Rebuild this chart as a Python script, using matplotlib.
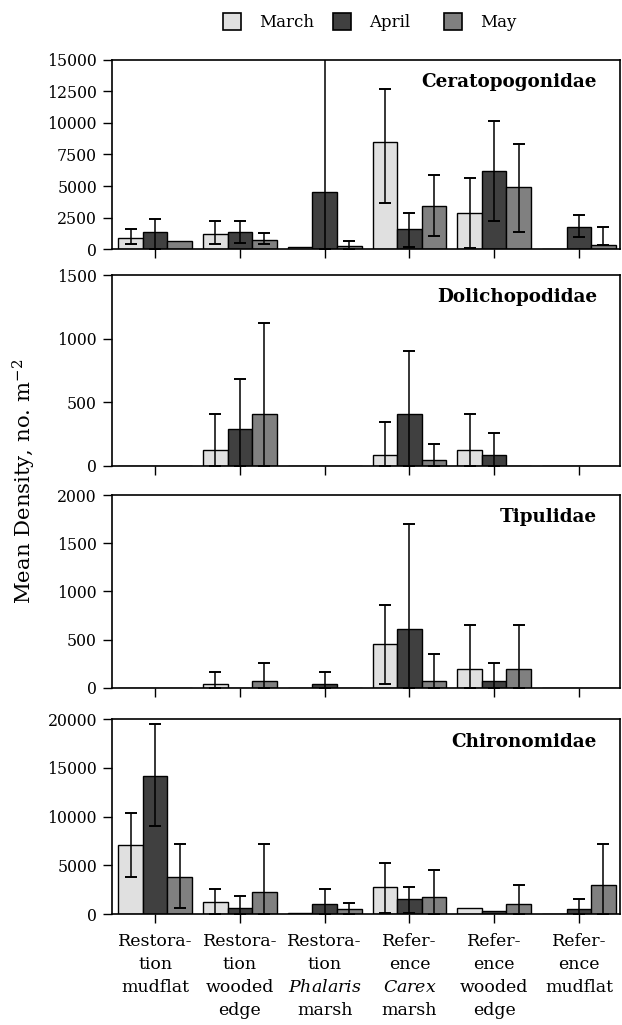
import numpy as np
import matplotlib
matplotlib.use("Agg")
import matplotlib.pyplot as plt
from matplotlib.patches import Patch

plt.rcParams["font.family"] = "DejaVu Serif"
plt.rcParams["mathtext.fontset"] = "custom"
plt.rcParams["mathtext.rm"] = "DejaVu Serif"
plt.rcParams["mathtext.it"] = "DejaVu Serif:italic"

# ── Data ──────────────────────────────────────────────────────────────────────
sites = [
    "Restora-\ntion\nmudflat",
    "Restora-\ntion\nwooded\nedge",
    "Restora-\ntion\n$\\it{Phalaris}$\nmarsh",
    "Refer-\nence\n$\\it{Carex}$\nmarsh",
    "Refer-\nence\nwooded\nedge",
    "Refer-\nence\nmudflat",
]
months = ["March", "April", "May"]
month_colors = ["#e0e0e0", "#404040", "#808080"]

# Ceratopogonidae: means, upper and lower error-bar ends
cera_mar = [900, 1220, 210, 8480, 2880, 0]
cera_mar_hi = [1610, 2270, 210, 12680, 5600, 0]
cera_mar_lo = [430, 430, 210, 3670, 80, 0]
cera_apr = [1340, 1340, 4520, 1610, 6150, 1740]
cera_apr_hi = [2400, 2270, 16000, 2880, 10140, 2720]
cera_apr_lo = [0, 470, 0, 210, 2270, 1000]
cera_may = [630, 740, 240, 3410, 4910, 370]
cera_may_hi = [630, 1300, 660, 5890, 8320, 1740]
cera_may_lo = [630, 430, 0, 1060, 1350, 370]

# Dolichopodidae
doli_mar = [0, 123, 0, 81, 123, 0]
doli_mar_hi = [0, 406, 0, 341, 406, 0]
doli_mar_lo = [0, 0, 0, 0, 0, 0]
doli_apr = [0, 286, 0, 409, 81, 0]
doli_apr_hi = [0, 684, 0, 902, 260, 0]
doli_apr_lo = [0, 0, 0, 0, 0, 0]
doli_may = [0, 409, 0, 42, 0, 0]
doli_may_hi = [0, 1120, 0, 168, 0, 0]
doli_may_lo = [0, 0, 0, 0, 0, 0]

# Tipulidae
tipu_mar = [0, 38, 0, 453, 197, 0]
tipu_mar_hi = [0, 166, 0, 862, 647, 0]
tipu_mar_lo = [0, 0, 0, 35, 0, 0]
tipu_apr = [0, 0, 38, 612, 73, 0]
tipu_apr_hi = [0, 0, 166, 1695, 253, 0]
tipu_apr_lo = [0, 0, 0, 0, 0, 0]
tipu_may = [0, 73, 0, 73, 197, 0]
tipu_may_hi = [0, 260, 0, 346, 647, 0]
tipu_may_lo = [0, 0, 0, 0, 0, 0]

# Chironomidae
chir_mar = [7065, 1229, 171, 2833, 683, 0]
chir_mar_hi = [10410, 2594, 171, 5290, 683, 0]
chir_mar_lo = [3857, 0, 171, 171, 683, 0]
chir_apr = [14164, 683, 1092, 1604, 375, 512]
chir_apr_hi = [19522, 1877, 2594, 2833, 375, 1570]
chir_apr_lo = [9010, 0, 0, 171, 375, 0]
chir_may = [3857, 2321, 512, 1741, 1092, 3003]
chir_may_hi = [7236, 7236, 1195, 4573, 3003, 7236]
chir_may_lo = [614, 0, 0, 0, 0, 0]

panels = [
    ("Ceratopogonidae", 15000, 2500,
     [(cera_mar, cera_mar_lo, cera_mar_hi), (cera_apr, cera_apr_lo, cera_apr_hi),
      (cera_may, cera_may_lo, cera_may_hi)]),
    ("Dolichopodidae", 1500, 500,
     [(doli_mar, doli_mar_lo, doli_mar_hi), (doli_apr, doli_apr_lo, doli_apr_hi),
      (doli_may, doli_may_lo, doli_may_hi)]),
    ("Tipulidae", 2000, 500,
     [(tipu_mar, tipu_mar_lo, tipu_mar_hi), (tipu_apr, tipu_apr_lo, tipu_apr_hi),
      (tipu_may, tipu_may_lo, tipu_may_hi)]),
    ("Chironomidae", 20000, 5000,
     [(chir_mar, chir_mar_lo, chir_mar_hi), (chir_apr, chir_apr_lo, chir_apr_hi),
      (chir_may, chir_may_lo, chir_may_hi)]),
]

# ── Layout (pixels of a 622 x 1025 canvas) ────────────────────────────────────
W, H = 622, 1025
LEFT, RIGHT = 111.5, 620
PANEL_Y = [(59.5, 249.3), (275, 465.7), (495, 687.7), (719, 914.3)]
BAR_W = 0.29

fig = plt.figure(figsize=(W / 100, H / 100), dpi=100)
x = np.arange(len(sites))

for i, ((name, ymax, ystep, series), (top, bottom)) in enumerate(zip(panels, PANEL_Y)):
    ax = fig.add_axes([LEFT / W, 1 - bottom / H, (RIGHT - LEFT) / W, (bottom - top) / H])
    for j, ((mean, lo, hi), color) in enumerate(zip(series, month_colors)):
        mean = np.asarray(mean, float)
        lo = np.asarray(lo, float)
        hi = np.asarray(hi, float)
        xpos = x + (j - 1) * BAR_W
        ax.bar(xpos, mean, width=BAR_W, color=color, edgecolor="black",
               linewidth=1.0, zorder=2)
        has_err = hi > mean
        ax.errorbar(xpos[has_err], mean[has_err],
                    yerr=[mean[has_err] - lo[has_err], hi[has_err] - mean[has_err]],
                    fmt="none", ecolor="black", elinewidth=1.1, capsize=4,
                    capthick=1.4, zorder=3)

    ax.set_xlim(-0.515, 5.485)
    ax.set_ylim(0, ymax)
    ax.set_yticks(np.arange(0, ymax + 1, ystep))
    ax.set_xticks(x)
    ax.tick_params(axis="both", direction="out", length=6.5, width=1.0,
                   labelsize=11.3, pad=4)
    ax.tick_params(axis="x", pad=7)
    for s in ax.spines.values():
        s.set_linewidth(1.2)
    ax.text(0.955, 0.884, name, transform=ax.transAxes, ha="right", va="center",
            fontsize=13.2, fontweight="bold")
    if i == len(panels) - 1:
        ax.set_xticklabels(sites, fontsize=12.5, linespacing=1.45)
    else:
        ax.set_xticklabels([])

fig.text(24 / W, 1 - 481 / H, "Mean Density, no. m$^{-2}$", rotation=90,
         ha="center", va="center", fontsize=15.3)

# legend: three equally spaced entries above the panels
for name, color, bx in zip(months, month_colors, [222.5, 332.7, 443.6]):
    fig.legend(handles=[Patch(facecolor=color, edgecolor="black", linewidth=1.2)],
               labels=[name], loc="center left",
               bbox_to_anchor=(bx / W, 1 - 22 / H), frameon=False,
               borderpad=0, borderaxespad=0, fontsize=12,
               handlelength=1.08, handleheight=1.2, handletextpad=1.1)

fig.savefig("out.png", dpi=100)
